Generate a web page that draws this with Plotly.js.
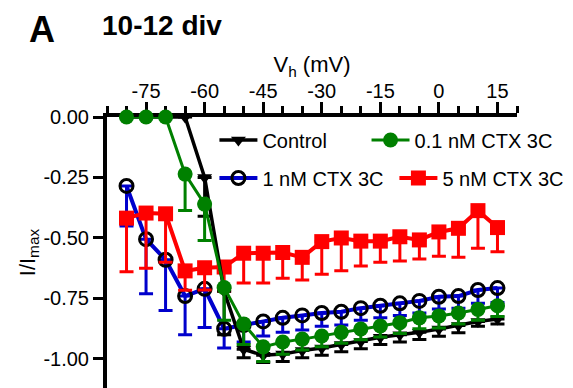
<!DOCTYPE html>
<html>
<head>
<meta charset="utf-8">
<script src="https://cdn.plot.ly/plotly-3.0.1.min.js"></script>
<style>html,body{margin:0;padding:0;background:#fff;}#chart{width:573px;height:388px;}</style>
</head>
<body>
<div id="chart"></div>
<script>
// Holding potential (mV)
var vh = [-80,-75,-70,-65,-60,-55,-50,-45,-40,-35,-30,-25,-20,-15,-10,-5,0,5,10,15];

// Control
var control    = [0,0,0,0,-0.25,-0.72,-0.96,-0.985,-0.98,-0.965,-0.955,-0.94,-0.928,-0.91,-0.9,-0.89,-0.876,-0.862,-0.845,-0.835];
var controlSem = [null,null,null,null,0.16,0.18,0.035,0.03,0.03,0.03,0.03,0.03,0.03,0.03,0.03,0.03,0.03,0.03,0.02,0.02];

// 0.1 nM CTX 3C
var ctx01    = [0,0,0,-0.236,-0.36,-0.705,-0.855,-0.95,-0.93,-0.918,-0.905,-0.89,-0.876,-0.864,-0.85,-0.83,-0.822,-0.81,-0.795,-0.78];
var ctx01Sem = [null,null,null,0.15,0.15,0.135,0.085,0.06,0.05,0.045,0.045,0.045,0.045,0.045,0.045,0.045,0.05,0.045,0.045,0.045];

// 1 nM CTX 3C
var ctx1    = [-0.285,-0.505,-0.59,-0.74,-0.71,-0.875,-0.86,-0.845,-0.83,-0.82,-0.81,-0.805,-0.79,-0.78,-0.77,-0.76,-0.743,-0.74,-0.715,-0.707];
var ctx1Sem = [0.165,0.225,0.21,0.16,0.16,0.08,0.07,0.06,0.06,0.06,0.055,0.055,0.05,0.05,0.05,0.05,0.05,0.05,0.055,0.06];

// 5 nM CTX 3C
var ctx5    = [-0.418,-0.397,-0.40,-0.636,-0.623,-0.62,-0.563,-0.563,-0.56,-0.58,-0.515,-0.50,-0.513,-0.513,-0.495,-0.508,-0.475,-0.46,-0.387,-0.457];
var ctx5Sem = [0.222,0.228,0.20,0.08,0.092,0.10,0.123,0.123,0.106,0.094,0.135,0.135,0.103,0.087,0.10,0.079,0.10,0.12,0.155,0.10];

// Tick labels
var xTickVals = [-75,-60,-45,-30,-15,0,15];
var xTickText = ['-75','-60','-45','-30','-15','0','15'];
var yTickVals = [0,-0.25,-0.5,-0.75,-1];
var yTickText = ['0.00','-0.25','-0.50','-0.75','-1.00'];

var FONT = 'Liberation Sans, Arial, sans-serif';

function plusOf(sem){ return sem.map(function(s){ return s == null ? null : 0; }); }

function errY(sem, color){
  return {type:'data', symmetric:false, array: plusOf(sem), arrayminus: sem,
          color: color, thickness: 3, width: 7};
}

var traces = [
  {name:'1 nM CTX 3C', x: vh, y: ctx1, mode:'lines+markers', legend:'legend3',
   line:{color:'#0000CC', width:4},
   marker:{symbol:'circle-open', size:13, color:'#000000', line:{width:3, color:'#000000'}},
   error_y: errY(ctx1Sem, '#0000CC'), cliponaxis:false},
  {name:'5 nM CTX 3C', x: vh, y: ctx5, mode:'lines+markers', legend:'legend4',
   line:{color:'#FF0000', width:4},
   marker:{symbol:'square', size:15, color:'#FF0000'},
   error_y: errY(ctx5Sem, '#FF0000'), cliponaxis:false},
  {name:'Control', x: vh, y: control, mode:'lines+markers', legend:'legend',
   line:{color:'#000000', width:3.5},
   marker:{symbol:'triangle-down', size:13, color:'#000000'},
   error_y: errY(controlSem, '#000000'), cliponaxis:false},
  {name:'0.1 nM CTX 3C', x: vh, y: ctx01, mode:'lines+markers', legend:'legend2',
   line:{color:'#008000', width:3},
   marker:{symbol:'circle', size:15, color:'#008000'},
   error_y: errY(ctx01Sem, '#008000'), cliponaxis:false}
];

function leg(x, y){
  return {x:x, y:y, xanchor:'left', yanchor:'middle', orientation:'v',
          bgcolor:'rgba(0,0,0,0)', borderwidth:0, itemwidth:38,
          font:{family:FONT, size:20, color:'#000'}};
}

var layout = {
  width:573, height:388,
  margin:{l:107, r:56, t:117, b:0, pad:0, autoexpand:false},
  paper_bgcolor:'#ffffff', plot_bgcolor:'rgba(0,0,0,0)',
  font:{family:FONT, size:20, color:'#000'},
  showlegend:true,
  legend: leg(0.262, 0.915),
  legend2: leg(0.633, 0.915),
  legend3: leg(0.262, 0.775),
  legend4: leg(0.701, 0.775),
  title:{text:'<b>10-12 div</b>', font:{family:FONT, size:28, color:'#000'},
         xref:'container', yref:'container', x:102/573, xanchor:'left', y:1-25/388, yanchor:'middle'},
  annotations:[{text:'<b>A</b>', xref:'paper', yref:'paper', x:-0.195, y:1.323,
                xanchor:'left', yanchor:'middle', showarrow:false,
                font:{family:FONT, size:36, color:'#000'}}],
  xaxis:{side:'top', range:[-85,20], tickmode:'array', tickvals:xTickVals, ticktext:xTickText,
         ticks:'outside', ticklen:11, tickwidth:3, tickcolor:'#000', ticklabelstandoff:-4,
         showline:true, linewidth:4, linecolor:'#000', showgrid:false, zeroline:false,
         layer:'below traces', fixedrange:true, automargin:false,
         minor:{tickmode:'linear', tick0:0, dtick:5, ticks:'outside', ticklen:7, tickwidth:3, tickcolor:'#000', showgrid:false},
         tickfont:{family:FONT, size:20, color:'#000'},
         title:{text:'V<sub>h</sub> (mV)', font:{family:FONT, size:22, color:'#000'}, standoff:0}},
  yaxis:{range:[-1.12,0], tickmode:'array', tickvals:yTickVals, ticktext:yTickText,
         ticks:'outside', ticklen:10, tickwidth:3, tickcolor:'#000',
         showline:true, linewidth:4, linecolor:'#000', showgrid:false, zeroline:false,
         layer:'above traces', fixedrange:true, automargin:false,
         tickfont:{family:FONT, size:20, color:'#000'},
         title:{text:'I/I<sub>max</sub>', font:{family:FONT, size:22, color:'#000'}, standoff:3}}
};

Plotly.newPlot('chart', traces, layout, {displayModeBar:false, staticPlot:true});
</script>
</body>
</html>
